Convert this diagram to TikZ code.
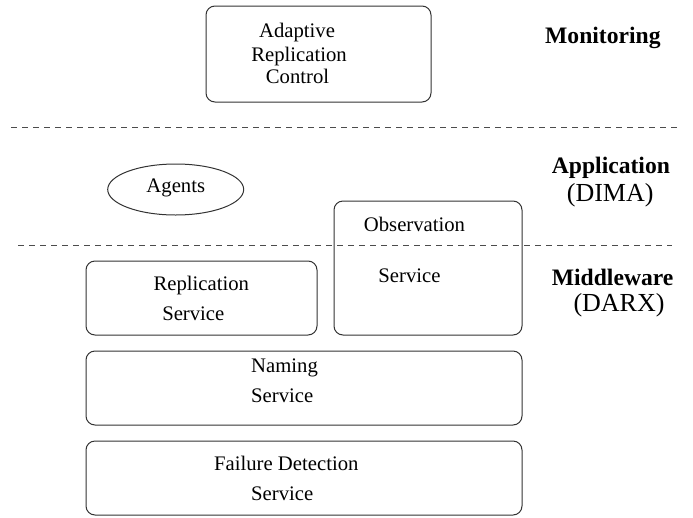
\documentclass[tikz,border=0pt]{standalone}
\usepackage{fontspec}
\setmainfont{Liberation Serif}
\usetikzlibrary{shapes.geometric}
\begin{document}
\begin{tikzpicture}[x=1pt,y=-1pt,
  box/.style={draw=black!80, line width=1pt, rounded corners=9pt, inner sep=0pt},
  oval/.style={draw=black!80, line width=1pt, ellipse, inner sep=0pt},
  txt/.style={font=\fontsize{20.7}{23}\selectfont, inner sep=0pt, anchor=base},
  txtl/.style={txt, anchor=base west},
  layer/.style={font=\fontsize{23.6}{26}\selectfont\bfseries, inner sep=0pt, anchor=base west},
  sublayer/.style={font=\fontsize{26}{28}\selectfont, inner sep=0pt, anchor=base west},
  sep/.style={draw=black!70, line width=1pt, dash pattern=on 6pt off 5pt}]
\useasboundingbox (0,0) rectangle (693,517);

% layer separators
\coordinate (s1a) at (11,127);
\coordinate (s1b) at (677,127);
\coordinate (s2a) at (18,245);
\coordinate (s2b) at (672,245);
\draw[sep] (s1a) -- (s1b);
\draw[sep] (s2a) -- (s2b);

% boxes
\node[box, minimum width=225pt, minimum height=96pt] (arc) at (318.5,54) {};
\node[oval, minimum width=136pt, minimum height=51pt] (agents) at (175.7,189.5) {};
\node[box, minimum width=188pt, minimum height=134pt] (obs) at (428,268) {};
\node[box, minimum width=231pt, minimum height=74pt] (rep) at (201.5,298) {};
\node[box, minimum width=436pt, minimum height=74pt] (nam) at (304,388) {};
\node[box, minimum width=436pt, minimum height=74pt] (fd) at (304,478) {};

% box texts
\node[txt] (arc1) at (297,37.3) {Adaptive};
\node[txt] (arc2) at (299,61.7) {Replication};
\node[txt] (arc3) at (297.5,83.3) {Control};
\node[txt] (agt) at (175.8,192.3) {Agents};
\node[txt] (obs1) at (414.5,231) {Observation};
\node[txt] (obs2) at (409.5,282.7) {Service};
\node[txt] (rep1) at (201.3,290) {Replication};
\node[txt] (rep2) at (193.3,320) {Service};
\node[txtl] (nam1) at (251,372.3) {Naming};
\node[txtl] (nam2) at (251,402.3) {Service};
\node[txt] (fd1) at (286.3,470.7) {Failure Detection};
\node[txtl] (fd2) at (251,500) {Service};

% layer labels
\node[layer] (lmon) at (545,43.3) {Monitoring};
\node[layer] (lapp) at (551.7,173.3) {Application};
\node[sublayer] (ldima) at (566.7,201.7) {(DIMA)};
\node[layer] (lmid) at (551.7,285) {Middleware};
\node[sublayer] (ldarx) at (573.3,311.7) {(DARX)};
\end{tikzpicture}
\end{document}
